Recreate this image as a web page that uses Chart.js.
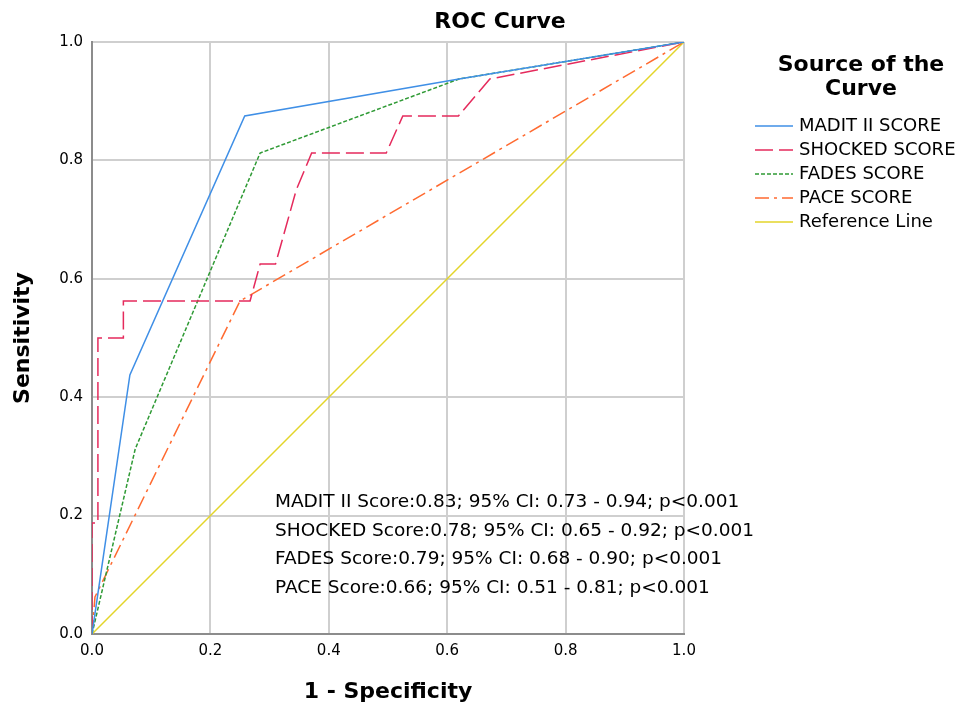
<!DOCTYPE html>
<html>
<head>
<meta charset="utf-8">
<title>ROC Curve</title>
<script src="https://cdn.jsdelivr.net/npm/chart.js@4.4.0/dist/chart.umd.min.js"></script>
<style>
  html, body { margin: 0; padding: 0; background: #fff; }
  #wrap { position: relative; width: 978px; height: 708px; }
</style>
</head>
<body>
<div id="wrap"><canvas id="roc" width="978" height="708"></canvas></div>
<script>
// ---- data ----
const seriesNames = ["MADIT II SCORE", "SHOCKED SCORE", "FADES SCORE", "PACE SCORE", "Reference Line"];

const maditX = [0, 0.064, 0.258, 0.62, 1];
const maditY = [0, 0.4375, 0.875, 0.9375, 1];

const shockedX = [0, 0, 0.01, 0.01, 0.053, 0.053, 0.267, 0.284, 0.31, 0.345, 0.371, 0.497, 0.525, 0.619, 0.672, 1];
const shockedY = [0, 0.1875, 0.1875, 0.5, 0.5, 0.5625, 0.5625, 0.625, 0.625, 0.75, 0.8125, 0.8125, 0.875, 0.875, 0.9375, 1];

const fadesX = [0, 0.073, 0.284, 0.62, 1];
const fadesY = [0, 0.3125, 0.8125, 0.9375, 1];

const paceX = [0, 0.005, 0.25, 1];
const paceY = [0, 0.0625, 0.5625, 1];

const refX = [0, 1];
const refY = [0, 1];

const aucLines = [
  "MADIT II Score:0.83; 95% CI: 0.73 - 0.94; p<0.001",
  "SHOCKED Score:0.78; 95% CI: 0.65 - 0.92; p<0.001",
  "FADES Score:0.79; 95% CI: 0.68 - 0.90; p<0.001",
  "PACE Score:0.66; 95% CI: 0.51 - 0.81; p<0.001"
];

const FONT = "'DejaVu Sans', sans-serif";

function pts(xs, ys) {
  return xs.map((x, i) => ({ x: x, y: ys[i] }));
}

function line(label, xs, ys, color, dash) {
  return {
    label: label,
    data: pts(xs, ys),
    borderColor: color,
    backgroundColor: color,
    borderWidth: 1.5,
    borderDash: dash,
    pointRadius: 0,
    fill: false,
    tension: 0
  };
}

// draws title, AUC notes and the legend box on the right
const extras = {
  id: "extras",
  afterDraw(chart) {
    const ctx = chart.ctx;
    ctx.save();
    ctx.fillStyle = "#000";
    ctx.textBaseline = "middle";

    // title
    ctx.font = "bold 22px " + FONT;
    ctx.textAlign = "center";
    ctx.fillText("ROC Curve", 500, 22);

    // AUC text
    ctx.font = "18.5px " + FONT;
    ctx.textAlign = "left";
    aucLines.forEach((t, i) => ctx.fillText(t, 275, 502 + i * 28.7));

    // legend
    ctx.font = "bold 22px " + FONT;
    ctx.textAlign = "center";
    ctx.fillText("Source of the", 861, 65);
    ctx.fillText("Curve", 861, 89);

    ctx.font = "18px " + FONT;
    ctx.textAlign = "left";
    chart.data.datasets.forEach((ds, i) => {
      const y = 126 + i * 24;
      ctx.strokeStyle = ds.borderColor;
      ctx.lineWidth = 1.5;
      ctx.setLineDash(ds.borderDash || []);
      ctx.beginPath();
      ctx.moveTo(755, y);
      ctx.lineTo(793, y);
      ctx.stroke();
      ctx.setLineDash([]);
      ctx.fillText(ds.label, 799, y);
    });
    ctx.restore();
  }
};

new Chart(document.getElementById("roc"), {
  type: "line",
  data: {
    datasets: [
      line(seriesNames[0], maditX, maditY, "#3f8fe6", []),
      line(seriesNames[1], shockedX, shockedY, "#e52a5c", [18, 6]),
      line(seriesNames[2], fadesX, fadesY, "#2f9a35", [4, 2]),
      line(seriesNames[3], paceX, paceY, "#ff6a30", [14, 5, 3, 5]),
      line(seriesNames[4], refX, refY, "#e3d52a", [])
    ]
  },
  options: {
    responsive: false,
    animation: false,
    layout: { padding: { top: 42, right: 294, left: 0, bottom: 0 } },
    plugins: {
      legend: { display: false },
      tooltip: { enabled: false }
    },
    scales: {
      x: {
        type: "linear",
        min: 0,
        max: 1,
        afterFit(scale) { scale.height = 74; },
        ticks: {
          stepSize: 0.2,
          color: "#000",
          padding: 8,
          font: { family: FONT, size: 15 },
          callback: v => v.toFixed(1)
        },
        grid: { color: "#cfcfcf", lineWidth: 2, drawTicks: false },
        border: { color: "#8c8c8c", width: 2 },
        title: {
          display: true,
          text: "1 - Specificity",
          color: "#000",
          font: { family: FONT, size: 22, weight: "bold" },
          padding: { top: 0, bottom: 3 }
        }
      },
      y: {
        type: "linear",
        min: 0,
        max: 1,
        afterFit(scale) { scale.width = 92; },
        ticks: {
          stepSize: 0.2,
          color: "#000",
          padding: 9,
          font: { family: FONT, size: 15 },
          callback: v => v.toFixed(1)
        },
        grid: { color: "#cfcfcf", lineWidth: 2, drawTicks: false },
        border: { color: "#8c8c8c", width: 2 },
        title: {
          display: true,
          text: "Sensitivity",
          color: "#000",
          font: { family: FONT, size: 22, weight: "bold" },
          padding: { top: 10, bottom: 0 }
        }
      }
    }
  },
  plugins: [extras]
});
</script>
</body>
</html>
